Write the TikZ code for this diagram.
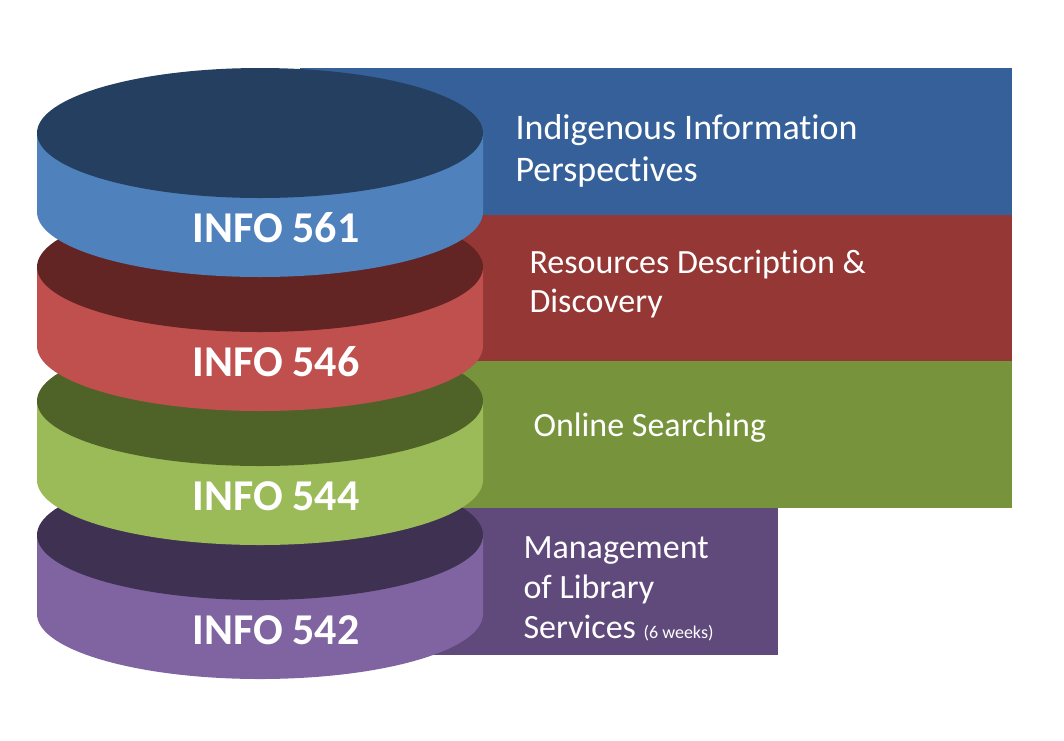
\documentclass[tikz,border=0pt]{standalone}
\usepackage{fontspec}
\setmainfont{Carlito}[Ligatures=NoCommon]
\begin{document}
\begin{tikzpicture}[x=1pt,y=-1pt,
  lbl/.style={text=white,font=\bfseries\fontsize{44}{48}\selectfont},
  rtxt/.style={text=white,anchor=west,align=left,font=\fontsize{36}{42}\selectfont}]
\useasboundingbox (0,0) rectangle (1064,740);
% rectangles
\fill[fill={rgb,255:red,96;green,74;blue,123}] (300,508) rectangle (778,655);
\fill[fill={rgb,255:red,119;green,147;blue,60}] (300,361) rectangle (1012,508);
\fill[fill={rgb,255:red,149;green,55;blue,53}] (300,215) rectangle (1012,361);
\fill[fill={rgb,255:red,54;green,96;blue,154}] (300,68) rectangle (1012,215);
% cylinders
\foreach \t/\side/\top/\name in {535/{rgb,255:red,128;green,100;blue,162}/{rgb,255:red,63;green,49;blue,81}/542,
  401/{rgb,255:red,155;green,187;blue,89}/{rgb,255:red,79;green,98;blue,40}/544,
  267/{rgb,255:red,192;green,80;blue,77}/{rgb,255:red,99;green,37;blue,35}/546,
  133/{rgb,255:red,79;green,129;blue,189}/{rgb,255:red,36;green,63;blue,96}/561}{
  \fill[fill=\side] (37,\t) -- (37,\t+79) arc[start angle=180,end angle=0,x radius=223,y radius=65] -- (483,\t) -- cycle;
  \fill[fill=\top] (260,\t) ellipse[x radius=223,y radius=65];
  \node[lbl] (c\name) at (276,\t+95) {INFO \name};
}
\node[rtxt] (t561) at (512,151) {Indigenous Information\\Perspectives};
\node[rtxt,font=\fontsize{34}{39}\selectfont] (t546) at (526,284) {Resources Description \&\\Discovery};
\node[rtxt,font=\fontsize{34}{39}\selectfont] (t544) at (530,428) {Online Searching};
\node[rtxt,font=\fontsize{34}{40}\selectfont] (t542) at (520,589) {Management\\of Library\\Services {\fontsize{18}{20}\selectfont(6 weeks)}};
\end{tikzpicture}
\end{document}
